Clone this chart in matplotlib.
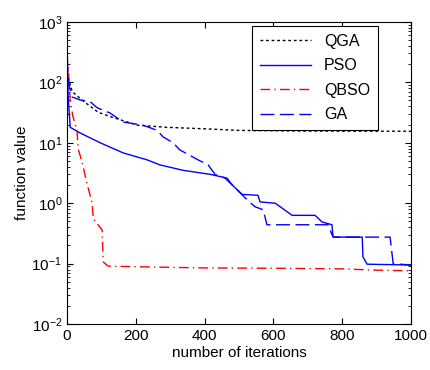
import matplotlib
matplotlib.use("Agg")
import matplotlib.pyplot as plt
from matplotlib.ticker import LogLocator, NullFormatter

plt.rcParams['font.family'] = ['Liberation Sans', 'DejaVu Sans']

# values
qga_it = [0, 5, 15, 45, 90, 135, 205, 290, 400, 500, 700, 1000]
qga_val = [150, 110, 70, 50, 32, 26, 19.5, 18, 17, 16, 15.6, 15.5]

pso_it = [0, 3, 9, 38, 96, 163, 233, 270, 337, 416, 465, 480, 509, 555, 561,
          605, 625, 654, 721, 741, 770, 773, 858, 860, 872, 1000]
pso_val = [250, 60, 18, 14.5, 10, 6.8, 5.2, 4.3, 3.5, 3.0, 2.6, 2.0, 1.4, 1.35, 1.05,
           1.0, 0.83, 0.63, 0.63, 0.49, 0.44, 0.275, 0.275, 0.13, 0.098, 0.095]

qbso_it = [0, 5, 9, 17, 29, 32, 44, 58, 73, 76, 90, 102, 105, 119, 250, 400,
           600, 800, 900, 1000]
qbso_val = [300, 120, 51, 27, 16, 8, 4.7, 2.1, 1.0, 0.56, 0.44, 0.36, 0.107, 0.091,
            0.088, 0.085, 0.084, 0.082, 0.078, 0.076]

ga_it = [0, 5, 15, 38, 67, 87, 125, 163, 221, 262, 279, 308, 328, 381, 410, 430,
         459, 480, 526, 547, 570, 581, 759, 770, 775, 939, 948, 1000]
ga_val = [250, 90, 57, 51, 48, 38, 31, 22, 19.5, 16, 12.5, 10, 7.6, 5.2, 4.3, 3.0,
          2.6, 2.0, 1.1, 0.87, 0.78, 0.44, 0.44, 0.3, 0.275, 0.275, 0.1, 0.095]

fig = plt.figure(figsize=(4.3, 3.7), dpi=100)
ax = fig.add_axes([0.156, 0.124, 0.8, 0.817])

ax.semilogy(qga_it, qga_val, color='k', lw=1, linestyle=(0, (2, 2)), label='QGA')
ax.semilogy(pso_it, pso_val, color='#0000ff', lw=1, label='PSO')
ax.semilogy(qbso_it, qbso_val, color='#ff0000', lw=1, linestyle=(0, (7, 3, 1, 3)), label='QBSO')
ax.semilogy(ga_it, ga_val, color='#0000ff', lw=1, linestyle=(0, (10, 4)), label='GA')

ax.set_xlim(0, 1000)
ax.set_ylim(1e-2, 1e3)
ax.set_xticks([0, 200, 400, 600, 800, 1000])
ax.yaxis.set_major_locator(LogLocator(base=10, numticks=10))
ax.yaxis.set_minor_locator(LogLocator(base=10, subs=range(2, 10), numticks=10))
ax.yaxis.set_minor_formatter(NullFormatter())
ax.tick_params(which='both', direction='in', top=True, right=True, labelsize=11)
ax.tick_params(which='major', length=4)
ax.tick_params(which='minor', length=2)
for s in ax.spines.values():
    s.set_linewidth(0.8)

ax.set_xlabel('number of iterations', fontsize=11, labelpad=2)
ax.set_ylabel('function value', fontsize=11, labelpad=2)

leg = ax.legend(loc='upper right', fontsize=11.5, fancybox=False, framealpha=1,
                edgecolor='k', handlelength=3.2, borderpad=0.5, labelspacing=0.6,
                borderaxespad=0, bbox_to_anchor=(0.904, 0.987))
leg.get_frame().set_linewidth(0.8)

fig.savefig('out.png', dpi=100)
